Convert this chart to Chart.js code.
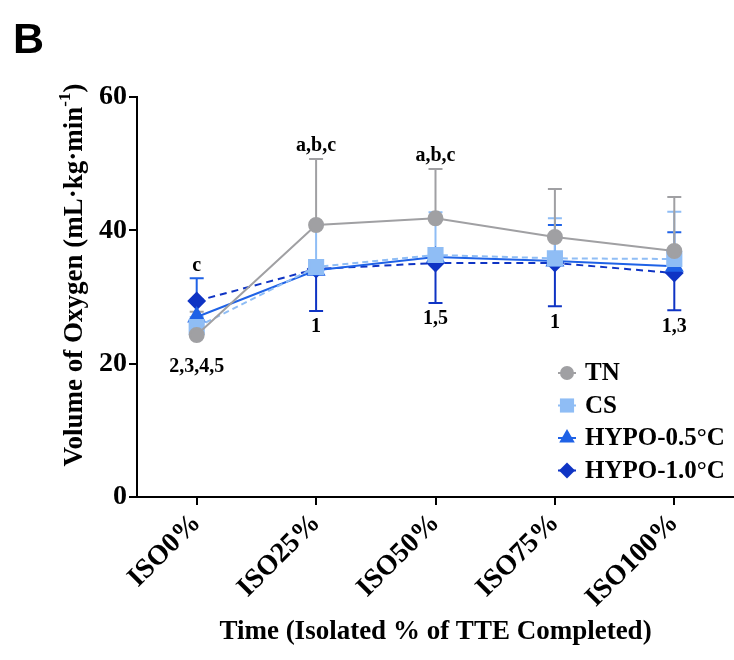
<!DOCTYPE html>
<html>
<head>
<meta charset="utf-8">
<script src="https://cdn.jsdelivr.net/npm/chart.js@4.4.0/dist/chart.umd.min.js"></script>
<style>
  html, body { margin: 0; padding: 0; background: #fff; overflow: hidden; }
  #wrap { width: 734px; height: 660px; position: relative; overflow: hidden; }
  #vo2 { display: block; }
</style>
</head>
<body>
<div id="wrap"><canvas id="vo2" width="746" height="660"></canvas></div>
<script>
const timepoints = ["ISO0%", "ISO25%", "ISO50%", "ISO75%", "ISO100%"];
const tnMean = [24.3, 40.8, 41.8, 39.0, 36.9];
const csMean = [25.5, 34.5, 36.3, 35.8, 35.7];
const hypo05Mean = [27.0, 34.0, 36.0, 35.4, 34.6];
const hypo10Mean = [29.4, 34.2, 35.1, 35.1, 33.6];
// SD is only drawn one way, like in the figure
const tnSdUp = [3.5, 9.9, 7.4, 7.2, 8.1];
const csSdUp = [1.5, 6.5, 6.4, 6.0, 7.1];
const hypo05SdUp = [5.8, 0, 0, 5.4, 5.1];
const hypo10SdDown = [0, 6.3, 6.0, 6.5, 5.6];
const sigAbove = ["c", "a,b,c", "a,b,c", "", ""];
const sigBelow = ["2,3,4,5", "1", "1,5", "1", "1,3"];
const yTicks = [0, 20, 40, 60];

const SERIF = "'Liberation Serif', 'Times New Roman', serif";

const errorBars = {
  id: "errorBars",
  beforeDatasetsDraw(chart) {
    const ctx = chart.ctx;
    const y = chart.scales.y;
    for (let i = chart.data.datasets.length - 1; i >= 0; i--) {
      const ds = chart.data.datasets[i];
      const meta = chart.getDatasetMeta(i);
      ctx.save();
      ctx.strokeStyle = ds.borderColor;
      ctx.lineWidth = 2;
      meta.data.forEach((pt, j) => {
        const bars = [[ds.errUp ? ds.errUp[j] : 0, 1], [ds.errDown ? ds.errDown[j] : 0, -1]];
        bars.forEach(([e, s]) => {
          if (!e) return;
          const yEnd = y.getPixelForValue(ds.data[j] + s * e);
          ctx.beginPath();
          ctx.moveTo(pt.x, pt.y);
          ctx.lineTo(pt.x, yEnd);
          ctx.moveTo(pt.x - 7, yEnd);
          ctx.lineTo(pt.x + 7, yEnd);
          ctx.stroke();
        });
      });
      ctx.restore();
    }
  }
};

const extras = {
  id: "extras",
  afterDraw(chart) {
    const ctx = chart.ctx;
    const area = chart.chartArea;
    const x = chart.scales.x, y = chart.scales.y;
    const sets = chart.data.datasets;

    // significance letters above / below each time point
    ctx.save();
    ctx.fillStyle = "#000";
    ctx.font = "bold 20px " + SERIF;
    ctx.textAlign = "center";
    ctx.textBaseline = "middle";
    timepoints.forEach((t, j) => {
      let hi = Infinity, lo = -Infinity, loMark = -Infinity;
      sets.forEach(ds => {
        const m = ds.data[j];
        const up = ds.errUp ? ds.errUp[j] : 0;
        const dn = ds.errDown ? ds.errDown[j] : 0;
        hi = Math.min(hi, y.getPixelForValue(m + up));
        if (dn) lo = Math.max(lo, y.getPixelForValue(m - dn));
        loMark = Math.max(loMark, y.getPixelForValue(m));
      });
      const px = x.getPixelForValue(j);
      if (sigAbove[j]) ctx.fillText(sigAbove[j], px, hi - 13);
      if (sigBelow[j]) ctx.fillText(sigBelow[j], px, Math.max(lo + 16, loMark + 32));
    });
    ctx.restore();

    // y axis title with superscript
    ctx.save();
    const cy = (area.top + area.bottom) / 2 - 22;
    ctx.translate(75, cy);
    ctx.rotate(-Math.PI / 2);
    ctx.fillStyle = "#000";
    ctx.textBaseline = "middle";
    ctx.textAlign = "left";
    const main = "Volume of Oxygen (mL\u00b7kg\u00b7min";
    const fMain = "bold 27px " + SERIF, fSup = "bold 17px " + SERIF;
    ctx.font = fMain;
    const w1 = ctx.measureText(main).width, w3 = ctx.measureText(")").width;
    ctx.font = fSup;
    const w2 = ctx.measureText("-1").width;
    let sx = -(w1 + w2 + w3) / 2;
    ctx.font = fMain;
    ctx.fillText(main, sx, 0);
    ctx.font = fSup;
    ctx.fillText("-1", sx + w1, -9);
    ctx.font = fMain;
    ctx.fillText(")", sx + w1 + w2, 0);
    ctx.restore();

    // legend inside the plot, lower right
    ctx.save();
    const lx = area.right - 167;
    let ly = area.bottom - 124;
    sets.forEach(ds => {
      ctx.strokeStyle = ds.borderColor;
      ctx.lineWidth = 2;
      ctx.beginPath();
      ctx.moveTo(lx - 9, ly);
      ctx.lineTo(lx + 9, ly);
      ctx.stroke();
      ctx.fillStyle = ds.backgroundColor;
      Chart.helpers.drawPoint(ctx, {
        pointStyle: ds.pointStyle, radius: ds.pointRadius, rotation: 0, borderWidth: 0
      }, lx, ly);
      ctx.fillStyle = "#000";
      ctx.font = "bold 25px " + SERIF;
      ctx.textBaseline = "middle";
      ctx.fillText(ds.label, lx + 18, ly + 1);
      ly += 32.5;
    });
    ctx.restore();

    // panel letter
    ctx.save();
    ctx.fillStyle = "#000";
    ctx.font = "bold 43px 'Liberation Sans', Arial, sans-serif";
    ctx.textBaseline = "alphabetic";
    ctx.fillText("B", 13, 53);
    ctx.restore();
  }
};

new Chart(document.getElementById("vo2"), {
  type: "line",
  data: {
    labels: timepoints,
    datasets: [
      {
        label: "TN", data: tnMean, errUp: tnSdUp,
        borderColor: "#a0a0a3", backgroundColor: "#a0a0a3",
        pointStyle: "circle", pointRadius: 7, borderWidth: 2
      },
      {
        label: "CS", data: csMean, errUp: csSdUp,
        borderColor: "#8fbdf5", backgroundColor: "#8fbdf5", borderDash: [6, 4],
        pointStyle: "rect", pointRadius: 10, borderWidth: 2
      },
      {
        label: "HYPO-0.5\u00b0C", data: hypo05Mean, errUp: hypo05SdUp,
        borderColor: "#1f62e6", backgroundColor: "#1f62e6",
        pointStyle: "triangle", pointRadius: 9, borderWidth: 2
      },
      {
        label: "HYPO-1.0\u00b0C", data: hypo10Mean, errDown: hypo10SdDown,
        borderColor: "#0f34c4", backgroundColor: "#0f34c4", borderDash: [7, 5],
        pointStyle: "rectRot", pointRadius: 8, borderWidth: 2
      }
    ]
  },
  options: {
    responsive: false,
    animation: false,
    events: [],
    layout: { padding: { top: 97, left: 0, right: 0, bottom: 0 } },
    elements: { point: { borderWidth: 0, hoverRadius: 7 }, line: { tension: 0 } },
    plugins: { legend: { display: false }, tooltip: { enabled: false } },
    scales: {
      x: {
        offset: true,
        grid: { display: true, drawOnChartArea: false, drawTicks: true, tickLength: 8, color: "#000", lineWidth: 2, offset: false },
        border: { display: true, color: "#000", width: 2 },
        ticks: {
          color: "#000", padding: 2, minRotation: 45, maxRotation: 45,
          font: { family: SERIF, size: 28, weight: "bold" }
        },
        title: {
          display: true, text: "Time (Isolated % of TTE Completed)", color: "#000",
          font: { family: SERIF, size: 27, weight: "bold" }, padding: { top: 0, bottom: 12 }
        },
        afterFit(s) { s.height = 163; }
      },
      y: {
        min: 0, max: 60,
        afterBuildTicks(s) { s.ticks = yTicks.map(v => ({ value: v })); },
        grid: { display: true, drawOnChartArea: false, drawTicks: true, tickLength: 8, color: "#000", lineWidth: 2 },
        border: { display: true, color: "#000", width: 2 },
        ticks: { color: "#000", padding: 2, font: { family: SERIF, size: 28, weight: "bold" } },
        afterFit(s) { s.width = 137; }
      }
    }
  },
  plugins: [errorBars, extras]
});
</script>
</body>
</html>
